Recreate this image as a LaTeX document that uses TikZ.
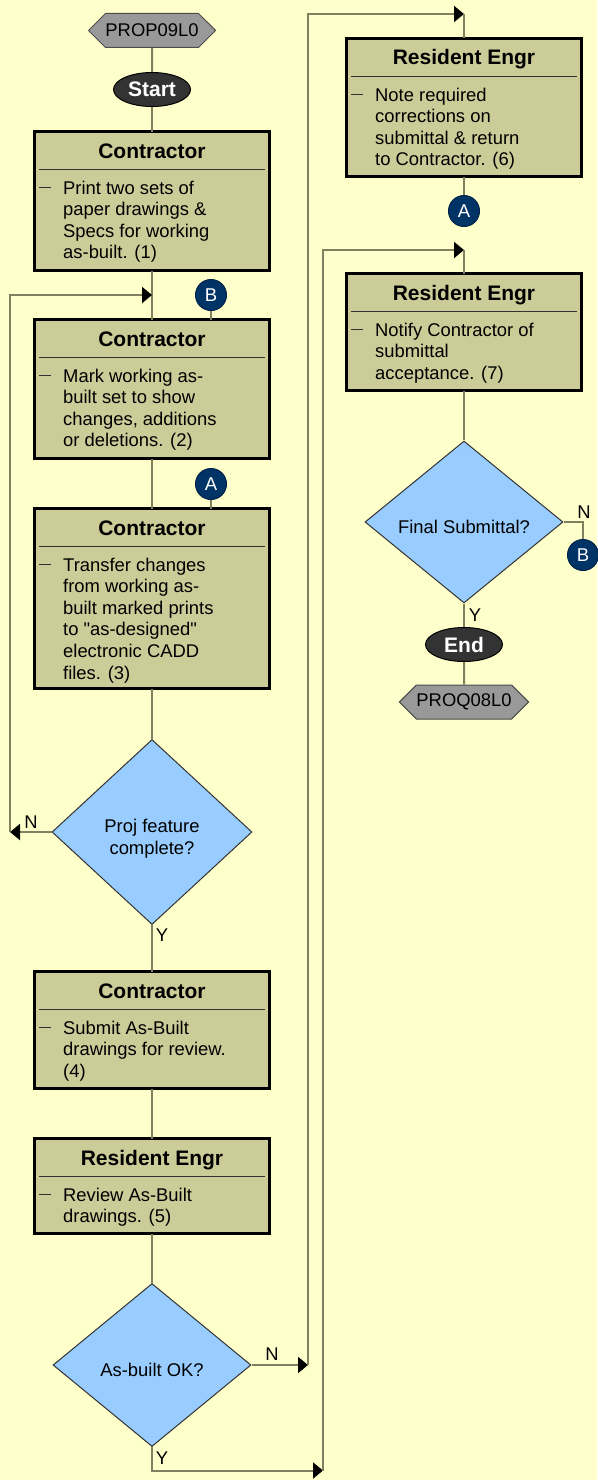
\documentclass[tikz,border=0pt]{standalone}
\usepackage{fontspec}
\setmainfont{Liberation Sans}
\usetikzlibrary{arrows.meta,calc,shapes.geometric,shapes.symbols}
\definecolor{bgColor}{HTML}{FFFFCC}
\definecolor{boxColor}{HTML}{CCCC99}
\definecolor{decColor}{HTML}{99CCFF}
\definecolor{conColor}{HTML}{003366}
\definecolor{termColor}{HTML}{333333}
\definecolor{hexColor}{HTML}{999999}
\definecolor{linkColor}{HTML}{808060}
\tikzset{
	link/.style={draw=linkColor, line width=2pt},
	flow/.style={link, -{Triangle[length=10pt,width=16pt,color=black]}},
	actbox/.style={draw=black, line width=3pt, fill=boxColor, minimum width=235pt, inner sep=0, outer sep=0},
	boxtitle/.style={anchor=base, inner sep=0, font=\fontsize{21}{25}\selectfont\bfseries},
	boxtext/.style={anchor=base west, inner sep=0, font=\fontsize{18.4}{21.6}\selectfont},
	sepline/.style={draw=black!80, line width=1pt},
	decision/.style={diamond, draw=black!80, line width=1pt, fill=decColor, inner sep=0, align=center,
		font=\fontsize{18.4}{21.6}\selectfont},
	term/.style={ellipse, draw=black, line width=1pt, fill=termColor, text=white, inner sep=0,
		minimum width=77pt, minimum height=34pt, font=\fontsize{21}{25}\selectfont\bfseries},
	pagelink/.style={signal, signal to=west and east, signal pointer angle=90, draw=black!70, line width=1pt,
		fill=hexColor, minimum width=123pt, minimum height=34pt, inner sep=0, font=\fontsize{18.4}{21.6}\selectfont},
	conn/.style={circle, draw=conColor!70!black, line width=1pt, fill=conColor, text=white, minimum size=31pt,
		inner sep=0, font=\fontsize{18.5}{21}\selectfont},
	lbl/.style={inner sep=0, font=\fontsize{18.4}{21.6}\selectfont}
}
% box: name, x, top, height, title, text
\newcommand{\stepbox}[6]{%
	\node[actbox, minimum height=#4-3] (#1) at (#2,#3+#4/2) {};
	\node[boxtitle] (#1t) at (#2,#3+28) {#5};
	\draw[sepline] (#2-113,#3+39) -- (#2+113,#3+39);
	\draw[sepline] (#2-113,#3+57) -- (#2-101,#3+57);
	\node[boxtext] (#1x) at (#2-89,#3+64) {\begin{tabular}[t]{@{}l@{}}#6\end{tabular}};
}
\begin{document}
\begin{tikzpicture}[x=1pt,y=-1pt]
\useasboundingbox (0,0) rectangle (597,1480);
\fill[bgColor] (0,0) rectangle (597,1480);
\node[pagelink] (prop) at (152,30.5) {PROP09L0};
\node[term] (start) at (152,89.5) {Start};
\stepbox{box1}{152}{130}{142}{Contractor}{Print two sets of\\paper drawings \&\\Specs for working\\as-built. (1)}
\stepbox{box2}{152}{318}{142}{Contractor}{Mark working as-\\built set to show\\changes, additions\\or deletions. (2)}
\stepbox{box3}{152}{507}{183}{Contractor}{Transfer changes\\from working as-\\built marked prints\\to \textquotedbl as-designed\textquotedbl\\electronic CADD\\files. (3)}
\node[decision, minimum width=200pt, minimum height=185pt, text height=48pt] (dia1) at (152,832) {Proj feature\\complete?};
\stepbox{box4}{152}{970}{120}{Contractor}{Submit As-Built\\drawings for review.\\(4)}
\stepbox{box5}{152}{1137}{98}{Resident Engr}{Review As-Built\\drawings. (5)}
\node[decision, minimum width=198pt, minimum height=163pt, text height=23pt] (dia2) at (152,1365) {As-built OK?};
\stepbox{box6}{464}{37}{141}{Resident Engr}{Note required\\corrections on\\submittal \& return\\to Contractor. (6)}
\stepbox{box7}{464}{272}{120}{Resident Engr}{Notify Contractor of\\submittal\\acceptance. (7)}
\node[decision, minimum width=198pt, minimum height=162pt, text height=24pt] (dia3) at (464,522) {Final Submittal?};
\node[term] (end) at (464,644.5) {End};
\node[pagelink] (proq) at (464,702) {PROQ08L0};
\node[conn] (cb1) at (211,295) {B};
\node[conn] (ca1) at (211,484) {A};
\node[conn] (ca2) at (464,211) {A};
\node[conn] (cb2) at (583,555) {B};
\coordinate (j2) at (152,295);
\coordinate (jn) at (10,832);
\coordinate (j6b) at (308,1365);
\coordinate (j6) at (464,14);
\coordinate (j7b) at (323,1470.5);
\coordinate (j7) at (464,250);
\draw[link] (prop) -- (start);
\draw[link] (start) -- (box1);
\draw[link] (box1) -- (box2);
\draw[link] (cb1) -- (cb1 |- box2.north);
\draw[link] (box2) -- (box3);
\draw[link] (ca1) -- (ca1 |- box3.north);
\draw[link] (box3) -- (dia1);
\draw[flow] (dia1) -- (jn);
\draw[flow] (jn) |- (j2);
\draw[link] (dia1) -- (box4);
\draw[link] (box4) -- (box5);
\draw[link] (box5) -- (dia2);
\draw[flow] (dia2) -- (j6b);
\draw[flow] (j6b) |- (j6);
\draw[link] (j6) -- (box6);
\draw[flow] (dia2.south) |- (j7b);
\draw[flow] (j7b) |- (j7);
\draw[link] (j7) -- (box7);
\draw[link] (box6) -- (ca2);
\draw[link] (box7) -- (dia3);
\draw[link] (dia3.east) -| (cb2);
\draw[link] (dia3) -- (end);
\draw[link] (end) -- (proq);
\node[lbl] (ln1) at (31,822) {N};
\node[lbl] (ly1) at (162,935) {Y};
\node[lbl] (ln2) at (272,1354) {N};
\node[lbl] (ly2) at (162,1458) {Y};
\node[lbl] (ln3) at (584,512) {N};
\node[lbl] (ly3) at (475,615) {Y};
\end{tikzpicture}
\end{document}
